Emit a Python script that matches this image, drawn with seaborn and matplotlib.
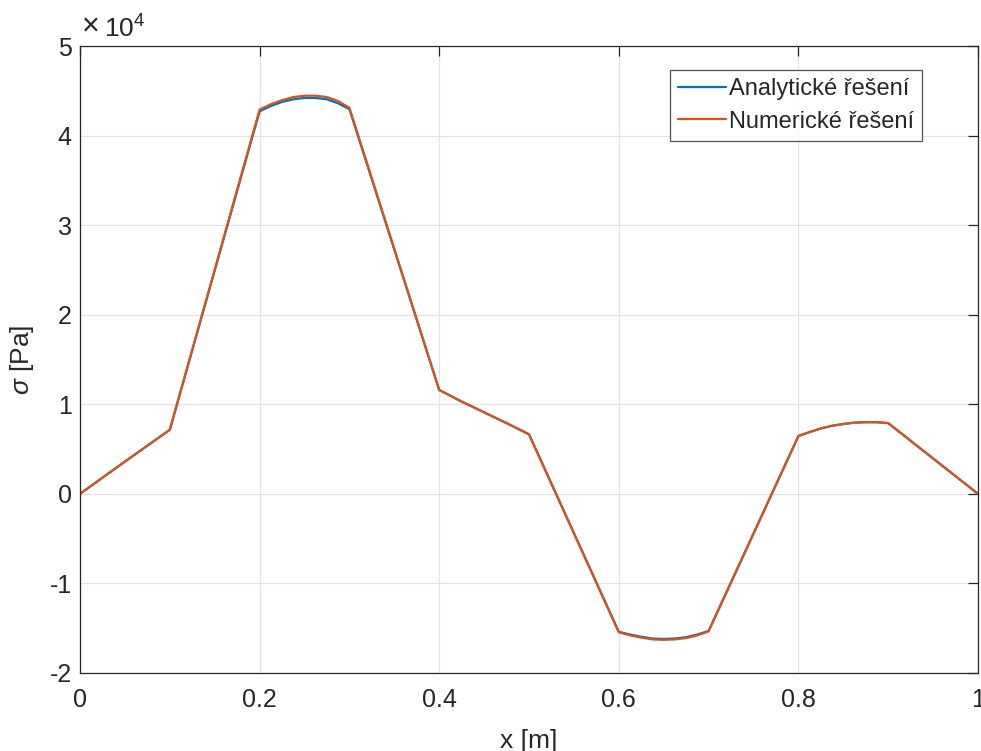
import numpy as np
import pandas as pd
import matplotlib
matplotlib.use("Agg")
import matplotlib.pyplot as plt
import seaborn as sns
from matplotlib.ticker import FixedLocator, FuncFormatter

# Stress along the beam, analytical and numerical solutions [Pa]
x_m = [0.0, 0.05, 0.1, 0.2, 0.2125, 0.225, 0.2375, 0.25, 0.2625, 0.275, 0.2875, 0.3,
       0.4, 0.425, 0.45, 0.475, 0.5, 0.6, 0.6125, 0.625, 0.6375, 0.65, 0.6625, 0.675,
       0.6875, 0.7, 0.8, 0.8125, 0.825, 0.8375, 0.85, 0.8625, 0.875, 0.8875, 0.9, 0.95, 1.0]

sigma_analytical = [0, 3600, 7150, 42700, 43300, 43750, 44050, 44200, 44200, 44050, 43600, 42950,
                    11600, 10300, 9100, 7900, 6650, -15400, -15700, -15950, -16150, -16200, -16150, -16000,
                    -15700, -15300, 6450, 6900, 7300, 7600, 7800, 7950, 8000, 8000, 7900, 3950, 0]

sigma_numerical = [0, 3600, 7150, 42900, 43500, 43950, 44300, 44450, 44450, 44300, 43850, 43100,
                   11600, 10300, 9100, 7900, 6650, -15450, -15800, -16050, -16250, -16300, -16250, -16100,
                   -15800, -15350, 6450, 6900, 7300, 7600, 7800, 7950, 8000, 8000, 7900, 3950, 0]

series_names = ["Analytické řešení", "Numerické řešení"]
x_ticks = [0, 0.2, 0.4, 0.6, 0.8, 1.0]
y_ticks = [-2e4, -1e4, 0, 1e4, 2e4, 3e4, 4e4, 5e4]

df = pd.DataFrame({
    "x": x_m * 2,
    "sigma": sigma_analytical + sigma_numerical,
    "reseni": [series_names[0]] * len(x_m) + [series_names[1]] * len(x_m),
})

sns.set_style("white")
plt.rcParams["font.family"] = ["Liberation Sans", "DejaVu Sans"]
plt.rcParams["mathtext.fontset"] = "custom"
plt.rcParams["mathtext.rm"] = "Liberation Sans"
plt.rcParams["mathtext.it"] = "Liberation Sans:italic"

fig = plt.figure(figsize=(9.81, 7.51), dpi=100)
ax = fig.add_axes([80 / 981, 1 - 673 / 751, 898 / 981, 627 / 751])

sns.lineplot(data=df, x="x", y="sigma", hue="reseni", sort=False,
             palette=["#0072BD", "#D95319"], linewidth=1.6, ax=ax, legend=True)

ax.set_xlim(0, 1)
ax.set_ylim(-2e4, 5e4)
ax.xaxis.set_major_locator(FixedLocator(x_ticks))
ax.yaxis.set_major_locator(FixedLocator(y_ticks))
ax.xaxis.set_major_formatter(FuncFormatter(lambda v, p: f"{v:g}"))
ax.yaxis.set_major_formatter(FuncFormatter(lambda v, p: f"{v / 1e4:g}"))

ax.grid(True, color="#e3e3e3", linewidth=0.9)
ax.set_axisbelow(True)
for s in ax.spines.values():
    s.set_color("#262626")
    s.set_linewidth(0.9)
    s.set_visible(True)

ax.tick_params(direction="in", length=7, width=0.9, colors="#262626",
               labelsize=18, top=True, right=True)
ax.tick_params(axis="x", pad=11)
ax.tick_params(axis="y", pad=6)

ax.set_xlabel("x [m]", fontsize=19, color="#262626", labelpad=12)
ax.set_ylabel(r"$\sigma$ [Pa]", fontsize=19, color="#262626", labelpad=10)
ax.text(0.002, 1.006, "\u00d7", transform=ax.transAxes, fontsize=22,
        color="#262626", ha="left", va="bottom")
ax.text(0.027, 1.006, r"10$^{4}$", transform=ax.transAxes, fontsize=19,
        color="#262626", ha="left", va="bottom")

leg = ax.legend(loc="upper right", bbox_to_anchor=(0.938, 0.962), fontsize=17,
                frameon=True, fancybox=False, edgecolor="#262626", handlelength=2.0,
                handletextpad=0.15, borderpad=0.35, labelspacing=0.45, borderaxespad=0)
leg.get_frame().set_linewidth(0.9)
leg.set_title(None)

fig.savefig("out.png", dpi=100)
